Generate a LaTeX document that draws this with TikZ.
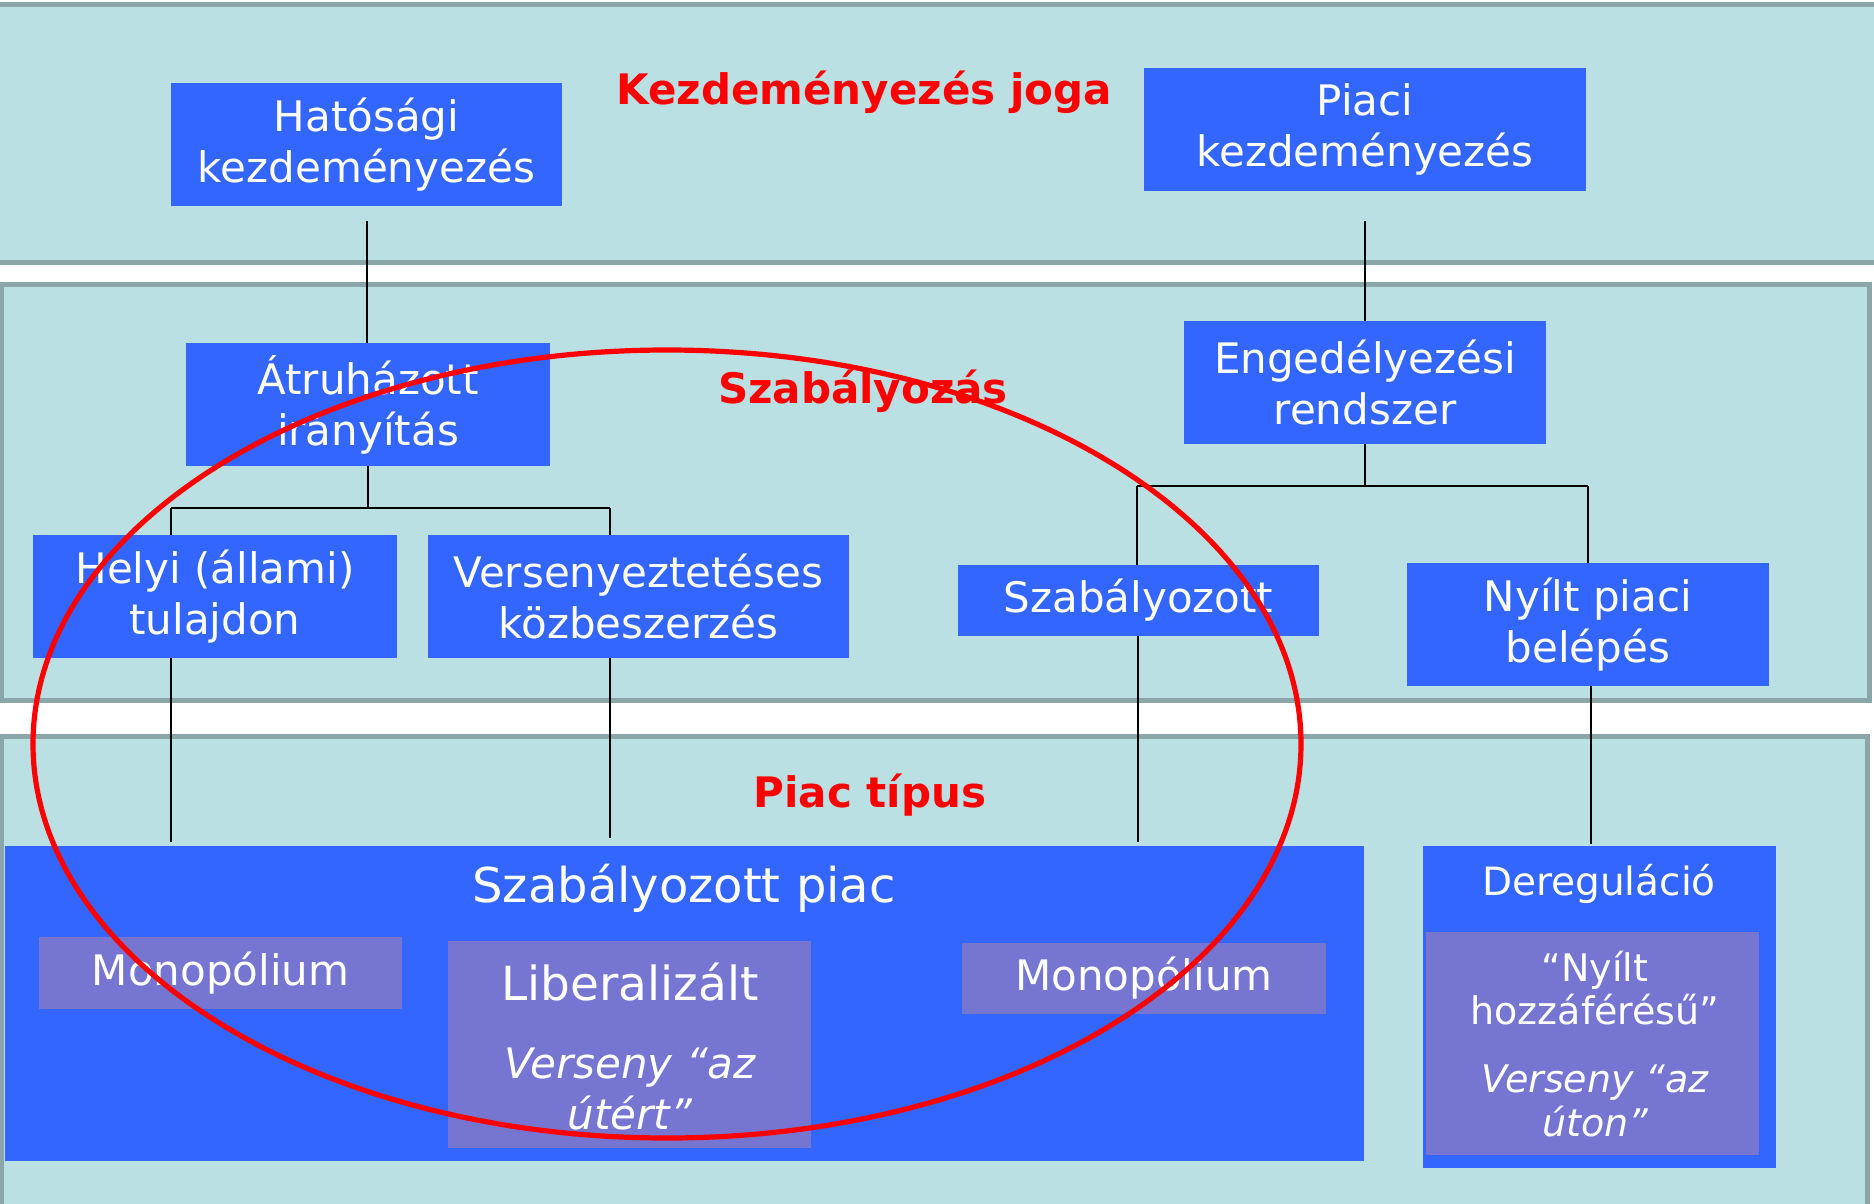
\documentclass[tikz,border=0pt]{standalone}
\usepackage{fontspec}
\setmainfont{DejaVu Sans}
\definecolor{savszin}{RGB}{186,224,227}
\definecolor{savkeret}{RGB}{138,166,168}
\definecolor{kek}{RGB}{51,102,255}
\definecolor{lilaszin}{RGB}{118,118,210}
\tikzset{>=latex,
  sav/.style={fill=savszin,draw=savkeret,line width=2.5pt},
  blok/.style={fill=kek,text=white,inner sep=0pt,align=center,font=\fontsize{21}{25.5}\selectfont},
  lilablok/.style={fill=lilaszin,text=white,inner sep=0pt,align=center,font=\fontsize{21}{25}\selectfont},
  felirat/.style={text=red,inner sep=0pt,font=\fontsize{21}{25}\selectfont\bfseries},
  feher/.style={text=white,inner sep=0pt,align=center},
  vonal/.style={line width=0.7pt}
}

\begin{document}
\begin{tikzpicture}[x=0.5pt,y=-0.5pt]
            \useasboundingbox (0,0) rectangle (1874,1204);
            \draw[sav] (-10,4.5) rectangle (1884,262.5);
            \draw[sav] (1,284.5) rectangle (1869,700.5);
            \draw[sav] (1,736) rectangle (1867,1210);

            \node[felirat] (kezdcim) at (864,92) {Kezdeményezés joga};
            \node[felirat] (szabcim) at (863,391) {Szabályozás};
            \node[felirat] (piaccim) at (870,795) {Piac típus};

            \node[blok,minimum width=195.5pt,minimum height=61.5pt] (hatosagi) at (366.5,144.5) {Hatósági\\kezdeményezés};
            \node[blok,minimum width=221pt,minimum height=61.5pt] (piaci) at (1365,129.5) {Piaci\\kezdeményezés};
            \node[blok,minimum width=182pt,minimum height=61.5pt] (atruhazott) at (368,404.5) {Átruházott\\irányítás};
            \node[blok,minimum width=181pt,minimum height=61.5pt] (engedely) at (1365,382.5) {Engedélyezési\\rendszer};
            \node[blok,minimum width=182pt,minimum height=61.5pt] (helyi) at (215,596.5) {Helyi (állami)\\tulajdon};
            \node[blok,minimum width=210.5pt,minimum height=61.5pt] (verseny) at (638.5,596.5) {Versenyeztetéses\\közbeszerzés};
            \node[blok,minimum width=180.5pt,minimum height=35.5pt] (szabalyozott) at (1138.5,600.5) {Szabályozott};
            \node[blok,minimum width=181pt,minimum height=61.5pt] (nyilt) at (1588,624.5) {Nyílt piaci\\belépés};

            \node[blok,minimum width=679.5pt,minimum height=157.5pt] (szabpiac) at (684.5,1003.5) {};
            \node[feher,font=\fontsize{24}{28}\selectfont] (szabpiaccim) at (684,888) {Szabályozott piac};
            \node[lilablok,minimum width=181.5pt,minimum height=36pt] (monop1) at (220.5,973) {Monopólium};
            \node[lilablok,minimum width=181.5pt,minimum height=103.5pt] (liberal) at (629.5,1044.5) {};
            \node[feher,font=\fontsize{23.5}{27}\selectfont] (libcim) at (630,982) {Liberalizált};
            \node[feher,font=\fontsize{21}{25.5}\selectfont\itshape] (libszoveg) at (630,1089) {Verseny “az\\útért”};
            \node[lilablok,minimum width=182pt,minimum height=35.5pt] (monop2) at (1144,978.5) {Monopólium};

            \node[blok,minimum width=176.5pt,minimum height=161pt] (dereg) at (1599.5,1007) {};
            \node[feher,font=\fontsize{19.5}{23}\selectfont] (deregcim) at (1599,884) {Dereguláció};
            \node[lilablok,minimum width=166.5pt,minimum height=111.5pt] (hozzaferes) at (1592.5,1043.5) {};
            \node[feher,font=\fontsize{19}{21.5}\selectfont] (nyiltszoveg) at (1595,988) {“Nyílt\\hozzáférésű”};
            \node[feher,font=\fontsize{19}{22}\selectfont\itshape] (versenyszoveg) at (1595,1101) {Verseny “az\\úton”};

            \coordinate (k1) at (367,221);
            \coordinate (k2) at (1365,221);
            \coordinate (a1) at (171,508);
            \coordinate (a2) at (610,508);
            \coordinate (a3) at (171,842);
            \coordinate (a4) at (610,838);
            \coordinate (e1) at (1137,486);
            \coordinate (e2) at (1588,486);
            \coordinate (e3) at (1138,842);
            \coordinate (e4) at (1591,844);
            \draw[vonal] (k1) -- (k1 |- atruhazott.north);
            \draw[vonal] (k2) -- (engedely.north);
            \draw[vonal] (atruhazott.south) -- (atruhazott.south |- a1);
            \draw[vonal] (a1) -- (a2);
            \draw[vonal] (a1) -- (a1 |- helyi.north);
            \draw[vonal] (a2) -- (a2 |- verseny.north);
            \draw[vonal] (a3 |- helyi.south) -- (a3);
            \draw[vonal] (a4 |- verseny.south) -- (a4);
            \draw[vonal] (engedely.south) -- (engedely.south |- e1);
            \draw[vonal] (e1) -- (e2);
            \draw[vonal] (e1) -- (e1 |- szabalyozott.north);
            \draw[vonal] (e2) -- (e2 |- nyilt.north);
            \draw[vonal] (e3 |- szabalyozott.south) -- (e3);
            \draw[vonal] (e4 |- nyilt.south) -- (e4);

            \draw[red,line width=2.6pt] (667,744) ellipse [x radius=634,y radius=394];
        \end{tikzpicture}
\end{document}
